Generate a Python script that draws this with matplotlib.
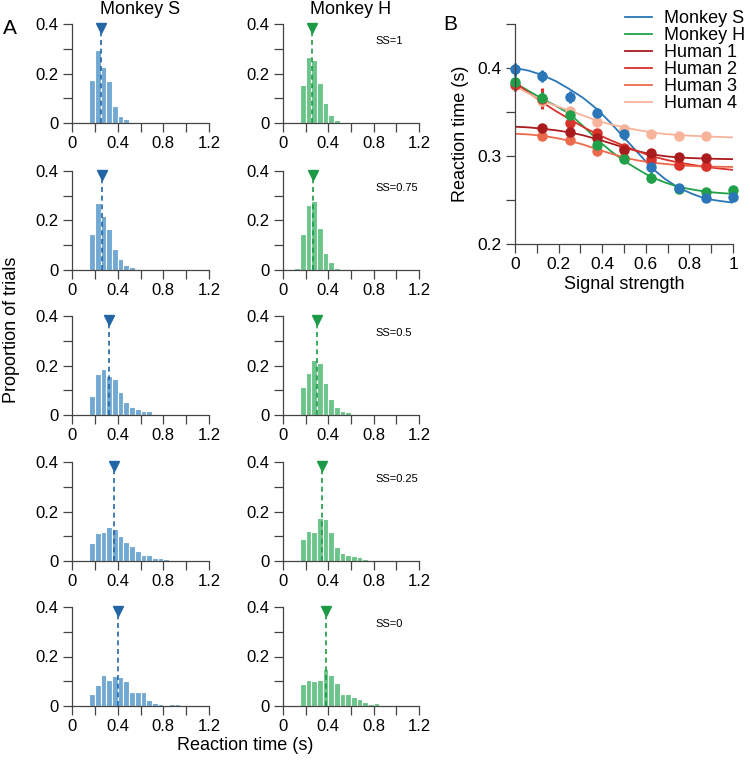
import numpy as np
import matplotlib.pyplot as plt

plt.rcParams['font.family'] = ['Liberation Sans', 'DejaVu Sans']

# ---- panel A data: RT histograms (proportion of trials), bins of 0.05 s from 0.1 s
ss_labels = ['SS=1', 'SS=0.75', 'SS=0.5', 'SS=0.25', 'SS=0']
bin_start = 0.1
bin_width = 0.05

monkey_s_hist = [
    [0.0, 0.173, 0.293, 0.226, 0.170, 0.070, 0.030, 0.018, 0.006, 0.005],
    [0.0, 0.146, 0.270, 0.220, 0.166, 0.085, 0.043, 0.020, 0.011, 0.003],
    [0.002, 0.077, 0.165, 0.184, 0.158, 0.145, 0.091, 0.052, 0.031, 0.024,
     0.016, 0.015, 0.003, 0.002],
    [0.0, 0.071, 0.114, 0.118, 0.137, 0.129, 0.103, 0.076, 0.061, 0.039,
     0.026, 0.023, 0.014, 0.011, 0.007, 0.005, 0.004, 0.003, 0.005, 0.003],
    [0.0, 0.049, 0.083, 0.126, 0.107, 0.122, 0.118, 0.100, 0.057, 0.056,
     0.056, 0.024, 0.014, 0.007, 0.005, 0.007, 0.009, 0.005],
]
monkey_h_hist = [
    [0.005, 0.152, 0.268, 0.253, 0.163, 0.079, 0.031, 0.012],
    [0.010, 0.146, 0.264, 0.277, 0.169, 0.068, 0.034, 0.010],
    [0.004, 0.114, 0.170, 0.221, 0.212, 0.128, 0.066, 0.031, 0.016, 0.011, 0.004],
    [0.005, 0.087, 0.120, 0.118, 0.174, 0.170, 0.116, 0.057, 0.034, 0.023,
     0.022, 0.016, 0.008, 0.004],
    [0.004, 0.087, 0.104, 0.099, 0.106, 0.150, 0.126, 0.091, 0.050, 0.050,
     0.037, 0.028, 0.015, 0.009, 0.011],
]
monkey_s_median = [0.254, 0.265, 0.326, 0.367, 0.399]
monkey_h_median = [0.260, 0.263, 0.296, 0.348, 0.378]

# ---- panel B data: mean RT vs signal strength
signal_strength = [0, 0.125, 0.25, 0.375, 0.5, 0.625, 0.75, 0.875, 1]
human_ss = [0.125, 0.25, 0.375, 0.5, 0.625, 0.75, 0.875]
human2_ss = [0, 0.125, 0.25, 0.375, 0.5, 0.625, 0.75, 0.875]

rt_monkey_s = [0.3985, 0.391, 0.367, 0.349, 0.3246, 0.2876, 0.2636, 0.2518, 0.2537]
err_monkey_s = [0.0076, 0.007, 0.0065, 0.006, 0.006, 0.004, 0.003, 0.003, 0.003]
rt_monkey_h = [0.384, 0.3657, 0.347, 0.3124, 0.297, 0.2754, 0.263, 0.2594, 0.261]
err_monkey_h = [0.006, 0.007, 0.004, 0.004, 0.003, 0.006, 0.003, 0.002, 0.002]

rt_human1 = [0.3314, 0.3269, 0.320, 0.3067, 0.3036, 0.2983, 0.2979]
rt_human2 = [0.381, 0.365, 0.338, 0.326, 0.309, 0.297, 0.290, 0.289]
rt_human3 = [0.323, 0.318, 0.306, 0.298, 0.293, 0.290, 0.289]
rt_human4 = [0.363, 0.351, 0.339, 0.331, 0.325, 0.323, 0.323]
err_human2 = [0.007, 0.012, 0.004, 0.003, 0.003, 0.003, 0.003, 0.003]

# fitted curves
fit_x = [0, 0.0625, 0.125, 0.1875, 0.25, 0.3125, 0.375, 0.4375, 0.5,
         0.5625, 0.625, 0.6875, 0.75, 0.8125, 0.875, 0.9375, 1]
fit_monkey_s = [0.400, 0.397, 0.392, 0.385, 0.376, 0.366, 0.3535, 0.338, 0.321,
                0.304, 0.287, 0.274, 0.264, 0.257, 0.2514, 0.249, 0.247]
fit_monkey_h = [0.383, 0.374, 0.365, 0.357, 0.348, 0.334, 0.319, 0.306, 0.2945,
                0.285, 0.276, 0.270, 0.2648, 0.262, 0.2594, 0.258, 0.257]
fit_human1 = [0.3333, 0.3325, 0.3310, 0.3292, 0.3269, 0.3235, 0.3192, 0.3145, 0.3097,
              0.3055, 0.302, 0.2998, 0.2983, 0.2976, 0.2971, 0.2967, 0.2964]
fit_human2 = [0.3832, 0.372, 0.3611, 0.351, 0.342, 0.333, 0.325, 0.318, 0.3116,
              0.3055, 0.300, 0.296, 0.2926, 0.290, 0.2876, 0.2858, 0.2842]
fit_human3 = [0.3253, 0.3245, 0.323, 0.3205, 0.3173, 0.313, 0.3078, 0.303, 0.2983,
              0.295, 0.2926, 0.291, 0.2895, 0.2886, 0.288, 0.2878, 0.2876]
fit_human4 = [0.3794, 0.371, 0.363, 0.357, 0.3516, 0.346, 0.3402, 0.336, 0.3326,
              0.3295, 0.3269, 0.325, 0.3238, 0.323, 0.3223, 0.3217, 0.3211]

blue_bar, blue_dark = '#72a9d3', '#2266a6'
green_bar, green_dark = '#6bc489', '#1d9a47'
c_ms, c_mh = '#2a76b8', '#21a04a'
c_h = ['#a91b1d', '#d8322a', '#ec6a4c', '#f8b39b']

W, H = 750, 761
fig = plt.figure(figsize=(W / 100, H / 100), dpi=100)


def px(left, top, width, height):
    return [left / W, 1 - (top + height) / H, width / W, height / H]


def style(ax, size=12):
    for s in ['top', 'right']:
        ax.spines[s].set_visible(False)
    for s in ['left', 'bottom']:
        ax.spines[s].set_color('#444444')
        ax.spines[s].set_linewidth(0.9)
    ax.tick_params(direction='out', length=6.5, width=0.9, color='#444444',
                   labelsize=size, pad=3)


def hist_panel(ax, heights, median, bar_c, dark_c):
    lefts = bin_start + bin_width * np.arange(len(heights))
    ax.bar(lefts, heights, width=bin_width, align='edge', color=bar_c,
           edgecolor='white', linewidth=0.8)
    ax.plot([median, median], [0, 0.37], color=dark_c, lw=1.2, ls=(0, (3, 2.2)))
    ax.plot(median, 0.383, marker='v', color=dark_c, ms=7, clip_on=False)
    ax.set_xlim(0, 1.2)
    ax.set_ylim(0, 0.4)
    ax.set_xticks([0, 0.2, 0.4, 0.6, 0.8, 1.0, 1.2])
    ax.set_xticklabels(['0', '', '0.4', '', '0.8', '', '1.2'])
    ax.set_yticks([0, 0.1, 0.2, 0.3, 0.4])
    ax.set_yticklabels(['0', '', '0.2', '', '0.4'])
    style(ax)


row_tops = [24, 171, 316, 462, 607]
for i, top in enumerate(row_tops):
    ax_s = fig.add_axes(px(72, top, 137, 99))
    hist_panel(ax_s, monkey_s_hist[i], monkey_s_median[i], blue_bar, blue_dark)
    ax_h = fig.add_axes(px(283, top, 136, 99))
    hist_panel(ax_h, monkey_h_hist[i], monkey_h_median[i], green_bar, green_dark)
    ax_h.text(0.82, 0.33, ss_labels[i], fontsize=8, va='center', ha='left')
    if i == 0:
        ax_s.set_title('Monkey S', fontsize=13, pad=7)
        ax_h.set_title('Monkey H', fontsize=13, pad=7)

fig.text(12 / W, 1 - 330 / H, 'Proportion of trials', rotation=90,
         ha='center', va='center', fontsize=13)
fig.text(245 / W, 1 - 746 / H, 'Reaction time (s)', ha='center', va='center',
         fontsize=13)
fig.text(10 / W, 1 - 28 / H, 'A', ha='center', va='center', fontsize=15)
fig.text(450 / W, 1 - 25 / H, 'B', ha='center', va='center', fontsize=15)

# ---- panel B
axb = fig.add_axes(px(515, 24, 218, 220))
curves = [(fit_monkey_s, c_ms, 'Monkey S'), (fit_monkey_h, c_mh, 'Monkey H'),
          (fit_human1, c_h[0], 'Human 1'), (fit_human2, c_h[1], 'Human 2'),
          (fit_human3, c_h[2], 'Human 3'), (fit_human4, c_h[3], 'Human 4')]
handles = []
for yv, c, lab in curves:
    ln, = axb.plot(fit_x, yv, color=c, lw=1.3, label=lab)
    handles.append(ln)

eb = dict(fmt='o', ms=6.5, elinewidth=2.2, capsize=0, clip_on=False)
axb.errorbar(human_ss, rt_human4, yerr=0.003, color=c_h[3], **eb)
axb.errorbar(human_ss, rt_human3, yerr=0.003, color=c_h[2], **eb)
axb.errorbar(human2_ss, rt_human2, yerr=err_human2, color=c_h[1], **eb)
axb.errorbar(human_ss, rt_human1, yerr=0.003, color=c_h[0], **eb)
axb.errorbar(signal_strength, rt_monkey_h, yerr=err_monkey_h, color=c_mh, **eb)
axb.errorbar(signal_strength, rt_monkey_s, yerr=err_monkey_s, color=c_ms, **eb)

axb.set_xlim(0, 1)
axb.set_ylim(0.2, 0.45)
axb.set_xticks(np.arange(0, 1.01, 0.1))
axb.set_xticklabels(['0', '', '0.2', '', '0.4', '', '0.6', '', '0.8', '', '1'])
axb.set_yticks([0.2, 0.25, 0.3, 0.35, 0.4, 0.45])
axb.set_yticklabels(['0.2', '', '0.3', '', '0.4', ''])
style(axb, size=12.5)
axb.set_xlabel('Signal strength', fontsize=13, labelpad=3)
axb.set_ylabel('Reaction time (s)', fontsize=13, labelpad=6)

fig.legend(handles=handles, loc='upper left', bbox_to_anchor=(625 / W, 1 - 10 / H),
           frameon=False, fontsize=13, borderpad=0, borderaxespad=0,
           handlelength=1.5, handletextpad=0.65, labelspacing=0.0)

fig.savefig('out.png', dpi=100)
